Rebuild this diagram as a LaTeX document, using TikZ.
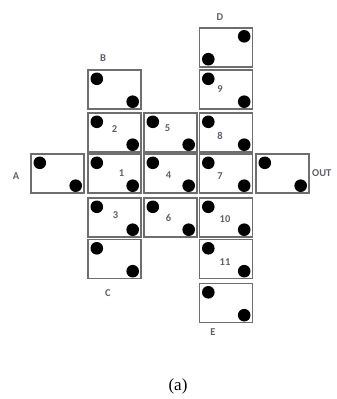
\documentclass[tikz,border=0pt]{standalone}
\usepackage{fontspec}
\setmainfont{Liberation Serif}
\newfontfamily\lblfont{Carlito}
\usetikzlibrary{calc}
\definecolor{boxgray}{RGB}{110,110,110}
\definecolor{txtgray}{RGB}{95,95,110}
\tikzset{
  cell/.style={draw=boxgray, line width=1.4pt, minimum width=53pt, minimum height=39pt, inner sep=0pt, fill=white},
  num/.style={font=\lblfont\bfseries\fontsize{10.5}{10.5}\selectfont, text=txtgray, inner sep=0pt},
  letter/.style={font=\lblfont\bfseries\fontsize{10.5}{10.5}\selectfont, text=txtgray, inner sep=0pt},
  dot/.style={fill=black},
}
\begin{document}
\begin{tikzpicture}[x=1pt,y=-1pt]
\useasboundingbox (0,0) rectangle (337,399);
\clip (0,0) rectangle (337,399);
\fill[white] (0,0) rectangle (337,399);
% cells
\node[cell] (D)   at (226,47.5) {};
\node[cell] (c9)  at (226,89.5) {};
\node[cell] (B)   at (114.5,89.5) {};
\node[cell] (c2)  at (114.5,132.5) {};
\node[cell] (c5)  at (170.5,132.5) {};
\node[cell] (c8)  at (226,132.5) {};
\node[cell] (A)   at (57.5,173.5) {};
\node[cell] (c1)  at (114.5,173.5) {};
\node[cell] (c4)  at (170.5,173.5) {};
\node[cell] (c7)  at (226,173.5) {};
\node[cell] (OUT) at (282.5,173.5) {};
\node[cell] (c3)  at (114.5,217.5) {};
\node[cell] (c6)  at (170.5,217.5) {};
\node[cell] (c10) at (226,217.5) {};
\node[cell] (C)   at (114.5,259) {};
\node[cell] (c11) at (226,259) {};
\node[cell] (E)   at (226,303) {};
% dots: top-left and bottom-right
\foreach \n in {c9,B,c2,c5,c8,A,c1,c4,c7,OUT,c3,c6,c10,C,c11,E}{
  \fill[dot] ($(\n.north west)+(9.5,9.5)$) circle (6.3);
  \fill[dot] ($(\n.south east)+(-9,-8)$) circle (6.3);
}
% D: top-right and bottom-left
\fill[dot] ($(D.north east)+(-9,9)$) circle (6.3);
\fill[dot] ($(D.south west)+(9.5,-8.5)$) circle (6.3);
% numbers
\node[num] (n2)  at ($(c2)+(0,-3)$) {2};
\node[num] (n5)  at ($(c5)+(-3,-4)$) {5};
\node[num] (n8)  at ($(c8)+(-6,3)$) {8};
\node[num] (n9)  at ($(c9)+(-6,0)$) {9};
\node[num] (n1)  at ($(c1)+(7,0)$) {1};
\node[num] (n4)  at ($(c4)+(-2,2)$) {4};
\node[num] (n7)  at ($(c7)+(-6,3)$) {7};
\node[num] (n3)  at ($(c3)+(1,-2)$) {3};
\node[num] (n6)  at ($(c6)+(-2,0)$) {6};
\node[num] (n10) at ($(c10)+(-1,2)$) {10};
\node[num] (n11) at ($(c11)+(-1,3)$) {11};
% letters
\node[letter] (lD) at (220,17) {D};
\node[letter] (lB) at (103,58) {B};
\node[letter] (lA) at (16,176) {A};
\node[letter,anchor=west] (lOUT) at (312,173) {OUT};
\node[letter] (lC) at (108,293) {C};
\node[letter] (lE) at (213,332) {E};
\node[font=\fontsize{17}{17}\selectfont, inner sep=0pt] (cap) at (178,386) {(a)};
\end{tikzpicture}
\end{document}
